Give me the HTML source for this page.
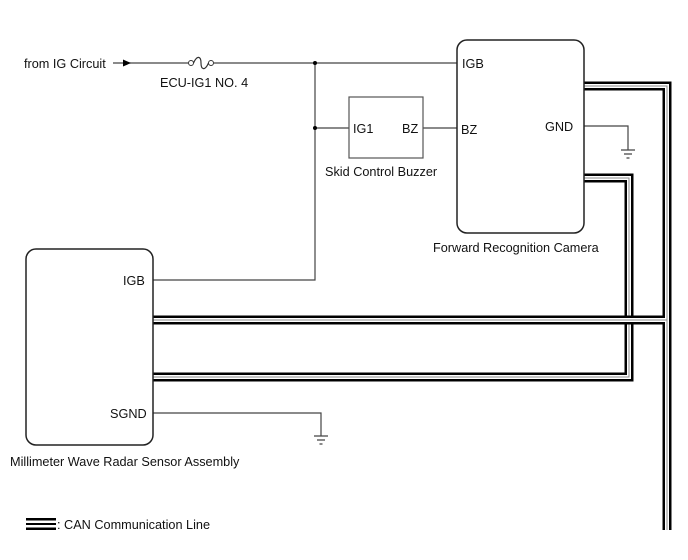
<!DOCTYPE html>
<html><head><style>
html,body{margin:0;padding:0;background:#fff}
svg{display:block}
text{font-family:"Liberation Sans",Arial,sans-serif;font-size:12.7px;fill:#111}
</style></head><body>
<svg width="688" height="560" viewBox="0 0 688 560" xmlns="http://www.w3.org/2000/svg">
<g fill="none" stroke-linejoin="miter">
<!-- CAN bundle C (under) -->
<path d="M584 178 H629 V377 H153" stroke="#000" stroke-width="9"/>
<path d="M584 178 H629 V377 H153" stroke="#fff" stroke-width="4"/>
<path d="M584 178 H629 V377 H153" stroke="#888" stroke-width="1"/>
<!-- CAN bundles A and B -->
<path d="M584 86 H667 V530" stroke="#000" stroke-width="9"/>
<path d="M153 320 H667" stroke="#000" stroke-width="9"/>
<path d="M584 86 H667 V530" stroke="#fff" stroke-width="4"/>
<path d="M153 320 H667" stroke="#fff" stroke-width="4"/>
<path d="M584 86 H667 V530" stroke="#888" stroke-width="1"/>
<path d="M153 320 H667" stroke="#888" stroke-width="1"/>
<!-- wires -->
<g stroke="#444" stroke-width="1.2">
<path d="M113 63 H188 M214 63 H457"/>
<path d="M315 63 V280 H153"/>
<path d="M315 128 H349"/>
<path d="M423 128 H457"/>
<path d="M584 126 H628 V150"/>
<path d="M153 413 H321 V436"/>
<path d="M621 150 H635 M624 154 H632 M626.5 158 H629.5"/>
<path d="M314 436 H328 M317 440 H325 M319.5 444 H322.5"/>
</g>
<!-- fuse -->
<circle cx="191" cy="63" r="2.5" stroke="#333" stroke-width="1" fill="#fff"/>
<circle cx="211" cy="63" r="2.5" stroke="#333" stroke-width="1" fill="#fff"/>
<path d="M193.5 63 C197 55 201 56 201 63 C201 70 205 71 208.5 63" stroke="#333" stroke-width="1.2"/>
<!-- boxes -->
<rect x="457" y="40" width="127" height="193" rx="10" stroke="#222" stroke-width="1.5" fill="#fff"/>
<rect x="26" y="249" width="127" height="196" rx="10" stroke="#222" stroke-width="1.5" fill="#fff"/>
<rect x="349" y="97" width="74" height="61" stroke="#555" stroke-width="1.2" fill="#fff"/>
</g>
<polygon points="123,59.5 131,63 123,66.5" fill="#000"/>
<circle cx="315" cy="63" r="2" fill="#000"/>
<circle cx="315" cy="128" r="2" fill="#000"/>
<!-- legend -->
<rect x="26" y="518" width="30" height="2.5" fill="#000"/>
<rect x="26" y="523" width="30" height="2" fill="#000"/>
<rect x="26" y="527.5" width="30" height="2.5" fill="#000"/>
<text x="57" y="529">: CAN Communication Line</text>
<!-- labels -->
<text x="24" y="68">from IG Circuit</text>
<text x="160" y="87">ECU-IG1 NO. 4</text>
<text x="462" y="68">IGB</text>
<text x="461" y="134">BZ</text>
<text x="545" y="131">GND</text>
<text x="353" y="133">IG1</text>
<text x="402" y="133">BZ</text>
<text x="325" y="176">Skid Control Buzzer</text>
<text x="433" y="252">Forward Recognition Camera</text>
<text x="123" y="285">IGB</text>
<text x="110" y="418">SGND</text>
<text x="10" y="466">Millimeter Wave Radar Sensor Assembly</text>
</svg>
</body></html>
